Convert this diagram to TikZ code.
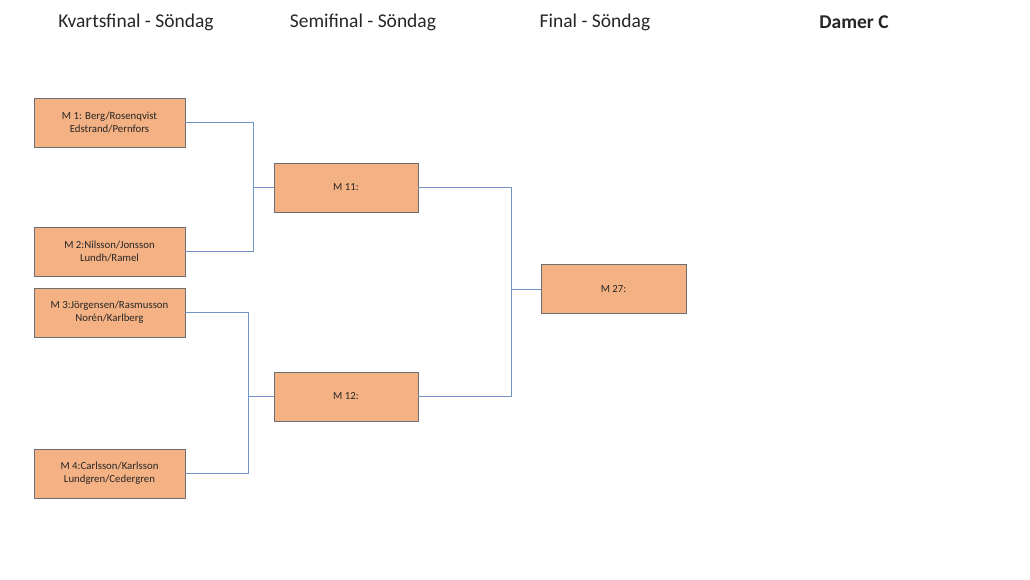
\documentclass[tikz,border=0pt]{standalone}
\usepackage{fontspec}
\setmainfont{Carlito}
\usetikzlibrary{positioning,calc}
\definecolor{boxfill}{HTML}{F4B183}
\definecolor{boxline}{HTML}{6B6E73}
\definecolor{wire}{HTML}{6F93C4}
\tikzset{match/.style={
            draw=boxline,
            fill=boxfill,
            line width=0.9pt,
            inner sep=0pt,
            minimum width=151pt,
            minimum height=49pt,
            align=center,
            font=\fontsize{10.8}{13}\selectfont,
            text=black!85
        },
        smallmatch/.style={
            match,
            minimum width=144pt
        },
        round/.style={
            font=\fontsize{19.5}{23}\selectfont,
            text=black!85
        },
        link/.style={
            draw=wire,
            line width=0.9pt
        }
    }
\begin{document}
\begin{tikzpicture}[x=1pt,y=-1pt]
        \useasboundingbox (0,0) rectangle (1030,579);
        \node[round] at (136,22) (qf) {Kvartsfinal - Söndag};
        \node[round] at (363,22) (sf) {Semifinal - Söndag};
        \node[round] at (595,22) (fi) {Final - Söndag};
        \node[round,font=\fontsize{19.5}{23}\selectfont\bfseries] at (854,22) (cl) {Damer C};
        \node[match] at (109.5,122.5) (m1) {M 1: Berg/Rosenqvist\\Edstrand/Pernfors};
        \node[match] at (109.5,251.5) (m2) {M 2:Nilsson/Jonsson\\Lundh/Ramel};
        \node[match] at (109.5,312.5) (m3) {M 3:Jörgensen/Rasmusson\\Norén/Karlberg};
        \node[match] at (109.5,473.5) (m4) {M 4:Carlsson/Karlsson\\Lundgren/Cedergren};
        \node[smallmatch] at (346,187.5) (m11) {M 11:};
        \node[smallmatch] at (346,396.5) (m12) {M 12:};
        \node[match,minimum width=145pt] at (613.5,289) (m27) {M 27:};
        \coordinate (j11) at (253,187.5);
        \coordinate (j12) at (248,396.5);
        \coordinate (j27) at (511,289);
        \draw[link] (m1.east) -| (j11);
        \draw[link] (m2.east) -| (j11);
        \draw[link] (j11) -- (m11.west);
        \draw[link] (m3.east) -| (j12);
        \draw[link] (m4.east) -| (j12);
        \draw[link] (j12) -- (m12.west);
        \draw[link] (m11.east) -| (j27);
        \draw[link] (m12.east) -| (j27);
        \draw[link] (j27) -- (m27.west);
    \end{tikzpicture}
\end{document}
